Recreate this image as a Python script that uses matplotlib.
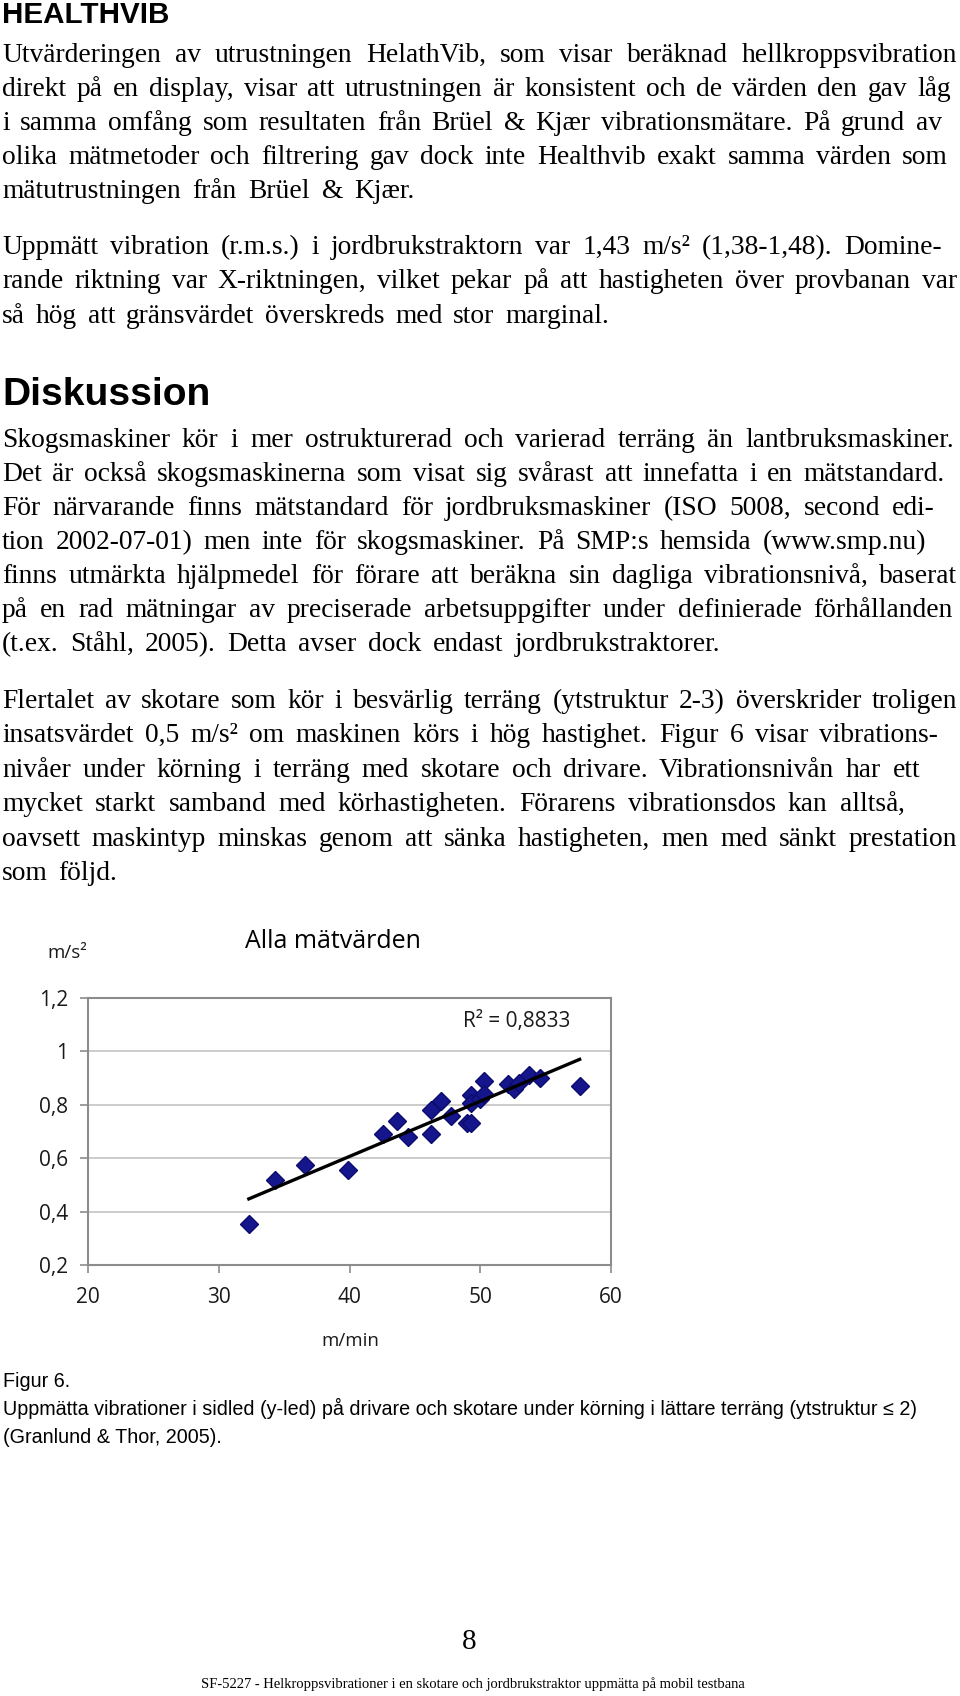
import numpy as np
import matplotlib
matplotlib.use("Agg")
import matplotlib.pyplot as plt

speed = [32.3, 34.3, 36.6, 39.9, 42.6, 43.6, 44.5, 46.2, 46.2, 47.0, 47.8, 49.0,
         49.3, 49.3, 49.3, 50.0, 50.3, 50.3, 52.1, 52.6, 53.0, 53.7, 54.6, 57.6]
vib = [0.354, 0.518, 0.573, 0.557, 0.689, 0.739, 0.680, 0.779, 0.689, 0.813, 0.758, 0.731,
       0.731, 0.837, 0.806, 0.822, 0.890, 0.842, 0.879, 0.861, 0.883, 0.912, 0.902, 0.869]
xticks = [20, 30, 40, 50, 60]
yticks = [0.2, 0.4, 0.6, 0.8, 1.0, 1.2]
ytick_labels = ["0,2", "0,4", "0,6", "0,8", "1", "1,2"]
r2_text = "R² = 0,8833"

para1 = ["Utvärderingen av utrustningen HelathVib, som visar beräknad hellkroppsvibration",
         "direkt på en display, visar att utrustningen är konsistent och de värden den gav låg",
         "i samma omfång som resultaten från Brüel & Kjær vibrationsmätare. På grund av",
         "olika mätmetoder och filtrering gav dock inte Healthvib exakt samma värden som",
         "mätutrustningen från Brüel & Kjær."]
para2 = ["Uppmätt vibration (r.m.s.) i jordbrukstraktorn var 1,43 m/s² (1,38-1,48). Domine-",
         "rande riktning var X-riktningen, vilket pekar på att hastigheten över provbanan var",
         "så hög att gränsvärdet överskreds med stor marginal."]
para3 = ["Skogsmaskiner kör i mer ostrukturerad och varierad terräng än lantbruksmaskiner.",
         "Det är också skogsmaskinerna som visat sig svårast att innefatta i en mätstandard.",
         "För närvarande finns mätstandard för jordbruksmaskiner (ISO 5008, second edi-",
         "tion 2002-07-01) men inte för skogsmaskiner. På SMP:s hemsida (www.smp.nu)",
         "finns utmärkta hjälpmedel för förare att beräkna sin dagliga vibrationsnivå, baserat",
         "på en rad mätningar av preciserade arbetsuppgifter under definierade förhållanden",
         "(t.ex. Ståhl, 2005). Detta avser dock endast jordbrukstraktorer."]
para4 = ["Flertalet av skotare som kör i besvärlig terräng (ytstruktur 2-3) överskrider troligen",
         "insatsvärdet 0,5 m/s² om maskinen körs i hög hastighet. Figur 6 visar vibrations-",
         "nivåer under körning i terräng med skotare och drivare. Vibrationsnivån har ett",
         "mycket starkt samband med körhastigheten. Förarens vibrationsdos kan alltså,",
         "oavsett maskintyp minskas genom att sänka hastigheten, men med sänkt prestation",
         "som följd."]
caption = ["Figur 6.",
           "Uppmätta vibrationer i sidled (y-led) på drivare och skotare under körning i lättare terräng (ytstruktur ≤ 2)",
           "(Granlund & Thor, 2005)."]
footer = "SF-5227 - Helkroppsvibrationer i en skotare och jordbrukstraktor uppmätta på mobil testbana"

W, H = 960, 1696
fig = plt.figure(figsize=(W / 100, H / 100), dpi=100)
renderer = fig.canvas.get_renderer()
serif = "Liberation Serif"


def px(x, y):
    return x / W, 1 - y / H


def body(lines, y0, ends, step=34.4, size=19.8):
    # lay words out so each line runs from the left margin to its right end
    for i, (s, x1) in enumerate(zip(lines, ends)):
        y = y0 + i * step
        words = s.split(" ")
        pieces = []
        for w in words:
            # "å," words come out shifted when drawn whole, so keep the comma apart
            if "å" in w and w.endswith(","):
                pieces.append([w[:-1], ","])
            else:
                pieces.append([w])
        arts, widths = [], []
        for parts in pieces:
            a = [fig.text(*px(0, y), p, fontsize=size, family=serif, va="baseline")
                 for p in parts]
            arts.append(a)
            widths.append([t.get_window_extent(renderer).width for t in a])
        total = sum(sum(w) for w in widths)
        gap = (x1 - 2 - total) / max(len(words) - 1, 1)
        x = 2
        for a, ws in zip(arts, widths):
            for t, w in zip(a, ws):
                t.set_x(x / W)
                x += w
            x += gap


def fitted(x, y, s, width, family, ha="left", **kw):
    t = fig.text(*px(x, y), s, fontsize=10, family=family, ha=ha, va="baseline", **kw)
    w = t.get_window_extent(renderer).width
    t.set_fontsize(10 * width / w)
    return t


fitted(2, 23, "HEALTHVIB", 166, "Liberation Sans", fontweight="bold")
body(para1, 62, [957, 951, 942, 948, 415], step=34.0)
body(para2, 254, [942, 957, 609])
fitted(2, 405, "Diskussion", 208, "Liberation Sans", fontweight="bold")
body(para3, 447, [954, 945, 935, 926, 957, 953, 720], step=34.0)
body(para4, 708, [957, 938, 920, 905, 957, 117])

# chart
sans = "Open Sans"
ax = fig.add_axes([88 / W, 1 - 1265 / H, 523 / W, 267 / H])
ax.set_xlim(20, 60)
ax.set_ylim(0.2, 1.2)
ax.set_xticks(xticks)
ax.set_xticklabels([str(v) for v in xticks])
ax.set_yticks(yticks)
ax.set_yticklabels(ytick_labels)
ax.yaxis.grid(True, color="#c4c4c4", lw=1.2)
ax.set_axisbelow(True)
for sp in ax.spines.values():
    sp.set_color("#8c8c8c")
    sp.set_linewidth(1.5)
ax.tick_params(direction="out", length=6, width=1.2, color="#8c8c8c",
               labelsize=15, labelcolor="#1a1a1a")
ax.tick_params(axis="x", pad=10)
ax.tick_params(axis="y", pad=8)
for lab in ax.get_xticklabels() + ax.get_yticklabels():
    lab.set_family(sans)

ax.plot(speed, vib, "D", color="#16168c", mec="#0c0c70", ms=9, zorder=3)
k, m = np.polyfit(speed, vib, 1)
xs = np.array([min(speed), max(speed)])
ax.plot(xs, k * xs + m, color="black", lw=2.4, zorder=4)

fig.text(*px(333, 942), "Alla mätvärden", fontsize=18, family=sans, ha="center", va="center")
fig.text(*px(67, 953), "m/s²", fontsize=13.5, family=sans, ha="center", va="center",
         color="#1a1a1a")
fig.text(*px(517, 1022), r2_text, fontsize=15, family=sans, ha="center", va="center",
         color="#1a1a1a")
fig.text(*px(350, 1341), "m/min", fontsize=13.5, family=sans, ha="center", va="center",
         color="#1a1a1a")

# caption
narrow = "Liberation Sans"
t = fitted(3, 1415, caption[1], 916, narrow)
cs = t.get_fontsize()
fig.text(*px(3, 1387), caption[0], fontsize=cs, family=narrow, va="baseline")
fig.text(*px(3, 1443), caption[2], fontsize=cs, family=narrow, va="baseline")

fig.text(*px(469, 1642), "8", fontsize=21, family=serif, ha="center", va="center")
fitted(473, 1688, footer, 546, serif, ha="center")

fig.savefig("out.png", dpi=100)
